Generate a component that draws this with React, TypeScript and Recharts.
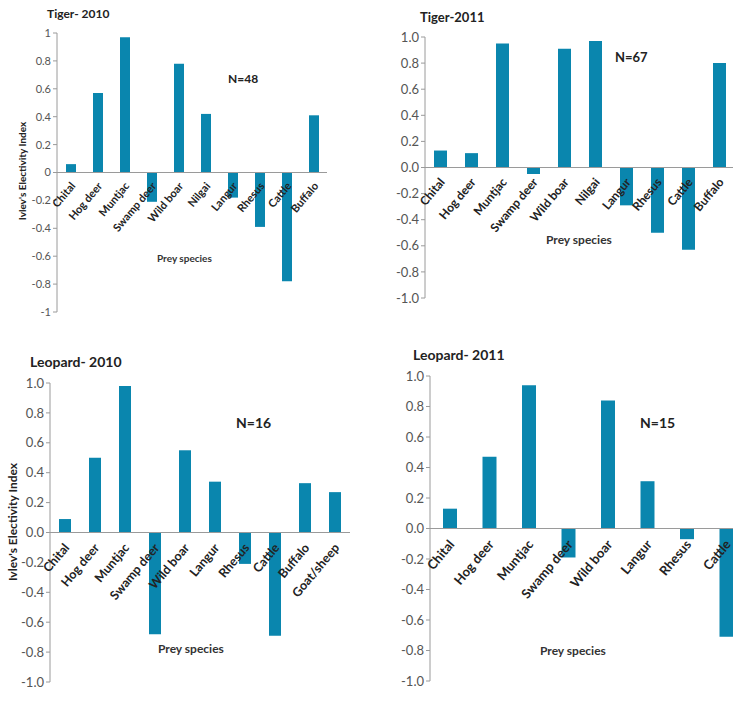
import React from "react";
import { BarChart, Bar, XAxis, YAxis, ReferenceLine, LabelList } from "recharts";

// prey species per panel
const tiger2010Species = ["Chital", "Hog deer", "Muntjac", "Swamp deer", "Wild boar", "Nilgai", "Langur", "Rhesus", "Cattle", "Buffalo"];
const tiger2010Index = [0.06, 0.57, 0.97, -0.21, 0.78, 0.42, -0.18, -0.39, -0.78, 0.41];

const tiger2011Species = ["Chital", "Hog deer", "Muntjac", "Swamp deer", "Wild boar", "Nilgai", "Langur", "Rhesus", "Cattle", "Buffalo"];
const tiger2011Index = [0.13, 0.11, 0.95, -0.05, 0.91, 0.97, -0.29, -0.5, -0.63, 0.8];

const leopard2010Species = ["Chital", "Hog deer", "Muntjac", "Swamp deer", "Wild boar", "Langur", "Rhesus", "Cattle", "Buffalo", "Goat/sheep"];
const leopard2010Index = [0.09, 0.5, 0.98, -0.68, 0.55, 0.34, -0.21, -0.69, 0.33, 0.27];

const leopard2011Species = ["Chital", "Hog deer", "Muntjac", "Swamp deer", "Wild boar", "Langur", "Rhesus", "Cattle"];
const leopard2011Index = [0.13, 0.47, 0.94, -0.19, 0.84, 0.31, -0.07, -0.71];

const yTicks = [-1, -0.8, -0.6, -0.4, -0.2, 0, 0.2, 0.4, 0.6, 0.8, 1];

const BAR = "#0A86AE";
const AXIS = "#9a9a9a";
const FONT = "Lato, 'Open Sans', sans-serif";

type PanelProps = {
  title: string;
  n: string;
  species: string[];
  values: number[];
  left: number;
  top: number;
  width: number;
  height: number;
  plotLeft: number;
  plotRight: number;
  plotTop: number;
  plotBottom: number;
  barSize: number;
  tickSize: number;
  catSize: number;
  oneDecimal: boolean;
  titlePos: [number, number, number];
  nPos: [number, number, number];
  preyPos: [number, number, number];
  yLabel?: [number, number, number];
};

function Panel(p: PanelProps) {
  const data = p.species.map((s, i) => ({ species: s, index: p.values[i] }));

  // species name drawn under the zero line, slanted
  const catLabel = (props: any) => {
    const { x, y, width, height, index } = props;
    const v = p.values[index];
    const zero = v >= 0 ? Math.max(y, y + height) : Math.min(y, y + height);
    const tx = x + width / 2 + 5;
    const ty = zero + p.catSize * 1.25;
    return (
      <text
        x={tx}
        y={ty}
        transform={`rotate(-50, ${tx}, ${ty})`}
        textAnchor="end"
        fontSize={p.catSize}
        fontWeight="bold"
        fill="#222"
        fontFamily={FONT}
      >
        {p.species[index]}
      </text>
    );
  };

  return (
    <div style={{ position: "absolute", left: p.left, top: p.top, width: p.width, height: p.height }}>
      <BarChart
        width={p.width}
        height={p.height}
        data={data}
        margin={{ top: p.plotTop, bottom: p.height - p.plotBottom, left: 0, right: p.width - p.plotRight }}
      >
        <XAxis dataKey="species" hide />
        <YAxis
          width={p.plotLeft}
          domain={[-1, 1]}
          ticks={yTicks}
          interval={0}
          allowDataOverflow
          tickFormatter={(v: number) => (p.oneDecimal ? v.toFixed(1) : String(Math.round(v * 10) / 10))}
          axisLine={{ stroke: AXIS }}
          tickLine={{ stroke: AXIS }}
          tickSize={4}
          tick={{ fontSize: p.tickSize, fill: "#555", fontFamily: FONT }}
        />
        <ReferenceLine y={0} stroke={AXIS} />
        <Bar dataKey="index" fill={BAR} barSize={p.barSize} isAnimationActive={false}>
          <LabelList dataKey="species" content={catLabel} />
        </Bar>
      </BarChart>
      <div style={{ position: "absolute", left: p.titlePos[0], top: p.titlePos[1], fontSize: p.titlePos[2], fontWeight: "bold", color: "#222", whiteSpace: "nowrap", fontFamily: FONT }}>
        {p.title}
      </div>
      <div style={{ position: "absolute", left: p.nPos[0], top: p.nPos[1], fontSize: p.nPos[2], fontWeight: "bold", color: "#222", whiteSpace: "nowrap", fontFamily: FONT }}>
        {p.n}
      </div>
      <div style={{ position: "absolute", left: p.preyPos[0], top: p.preyPos[1], fontSize: p.preyPos[2], fontWeight: "bold", color: "#333", whiteSpace: "nowrap", fontFamily: FONT }}>
        Prey species
      </div>
      {p.yLabel && (
        <div
          style={{
            position: "absolute",
            left: p.yLabel[0],
            top: p.yLabel[1],
            fontSize: p.yLabel[2],
            fontWeight: "bold",
            color: "#222",
            whiteSpace: "nowrap",
            fontFamily: FONT,
            transform: "translate(-50%, -50%) rotate(-90deg)",
          }}
        >
          Ivlev's Electivity Index
        </div>
      )}
    </div>
  );
}

export default function App() {
  return (
    <div style={{ position: "absolute", left: 0, top: 0, width: 733, height: 715, overflow: "hidden", background: "#fff" }}>
      <Panel
        title="Tiger- 2010"
        n="N=48"
        species={tiger2010Species}
        values={tiger2010Index}
        left={0}
        top={0}
        width={370}
        height={330}
        plotLeft={57}
        plotRight={327}
        plotTop={33}
        plotBottom={312}
        barSize={10}
        tickSize={11}
        catSize={11}
        oneDecimal={false}
        titlePos={[47, 6, 12]}
        nPos={[228, 71, 12]}
        preyPos={[157, 252, 10]}
        yLabel={[22, 171, 10]}
      />
      <Panel
        title="Tiger-2011"
        n="N=67"
        species={tiger2011Species}
        values={tiger2011Index}
        left={370}
        top={0}
        width={366}
        height={330}
        plotLeft={55}
        plotRight={365}
        plotTop={37}
        plotBottom={298}
        barSize={13}
        tickSize={13}
        catSize={12}
        oneDecimal
        titlePos={[50, 9, 13]}
        nPos={[245, 49, 13]}
        preyPos={[176, 232, 12]}
      />
      <Panel
        title="Leopard- 2010"
        n="N=16"
        species={leopard2010Species}
        values={leopard2010Index}
        left={0}
        top={340}
        width={370}
        height={375}
        plotLeft={50}
        plotRight={350}
        plotTop={43}
        plotBottom={342}
        barSize={12}
        tickSize={13}
        catSize={12.5}
        oneDecimal
        titlePos={[30, 13, 14]}
        nPos={[236, 74, 14]}
        preyPos={[158, 301, 12]}
        yLabel={[12, 182, 12]}
      />
      <Panel
        title="Leopard- 2011"
        n="N=15"
        species={leopard2011Species}
        values={leopard2011Index}
        left={370}
        top={340}
        width={380}
        height={375}
        plotLeft={60}
        plotRight={376}
        plotTop={36}
        plotBottom={341}
        barSize={14}
        tickSize={13}
        catSize={13}
        oneDecimal
        titlePos={[43, 6, 14]}
        nPos={[270, 74, 14]}
        preyPos={[170, 303, 12]}
      />
    </div>
  );
}
